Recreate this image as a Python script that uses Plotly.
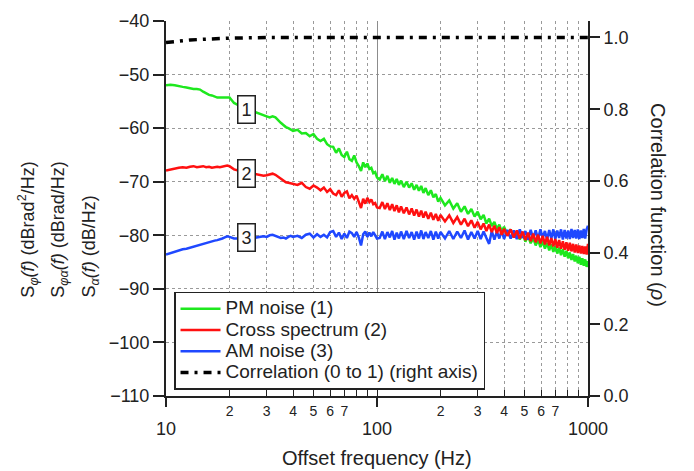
import plotly.graph_objects as go

# ---------------- data ----------------
freq = [10, 10.5, 11, 11.5, 12, 12.5, 13, 13.5, 14, 14.5, 15, 15.5, 16, 16.5, 17, 17.5, 18, 18.5, 19, 19.5, 20, 20.5, 21,
        22, 23, 24, 25, 26, 27, 28, 29, 30, 31, 32, 33, 34, 35, 36, 37, 38, 39, 40,
        42, 44, 46, 48, 50, 52, 54, 56, 58, 60, 62, 64, 66, 68, 70, 72, 74, 76, 78, 80, 82, 84, 86, 88, 90, 92, 94, 96, 98, 100,
        103, 106, 109, 112, 115, 118, 121, 124, 127, 130, 134, 138, 142, 146, 150, 154, 158, 162, 166, 170, 175, 180, 185, 190, 195, 200,
        210, 220, 230, 240, 250, 260, 270, 280, 290, 300, 310, 320, 330, 340, 350, 360, 370, 380, 390, 400,
        415, 430, 445, 460, 475, 490, 505, 520, 535, 550, 565, 580, 595, 610, 625, 640, 655, 670, 685, 700,
        715, 730, 745, 760, 775, 790, 805, 820, 835, 850, 865, 880, 895, 910, 925, 940, 955, 970, 985, 1000]

pm_noise = [-52.0, -51.9, -52.0, -52.2, -52.3, -52.4, -52.6, -52.7, -52.7, -52.8, -53.2, -53.5, -53.8, -53.9, -54.1, -54.3, -54.3, -54.3, -54.4, -54.4, -54.3, -54.8, -55.3,
            -55.7, -56.1, -56.4, -56.7, -56.9, -57.1, -57.4, -57.6, -57.8, -58.0, -57.8, -58.0, -58.6, -59.0, -59.4, -59.8, -60.0, -60.3, -60.5,
            -60.3, -61.0, -60.9, -61.5, -61.1, -62.0, -62.4, -62.0, -63.0, -63.4, -63.5, -64.6, -63.8, -65.0, -65.4, -64.4, -65.8, -66.1, -65.1, -66.4, -67.1, -68.0, -66.4, -67.3, -66.6, -67.6, -67.4, -68.4, -68.2, -69.2,
            -69.6, -68.6, -69.9, -68.9, -70.2, -69.3, -70.4, -69.5, -70.6, -69.8, -71.0, -70.0, -71.1, -70.3, -71.5, -70.6, -71.7, -70.8, -72.1, -71.2, -72.5, -71.6, -72.9, -72.3, -73.7, -73.0,
            -74.4, -73.5, -75.0, -74.0, -75.6, -74.6, -76.0, -75.1, -76.5, -75.6, -77.0, -76.2, -77.8, -76.9, -78.3, -77.5, -78.8, -78.0, -79.3, -78.4,
            -79.9, -78.9, -80.4, -79.4, -80.8, -79.7, -81.2, -80.1, -81.5, -80.5, -81.9, -80.8, -82.2, -81.1, -82.5, -81.4, -82.8, -81.7, -83.1, -82.0,
            -83.4, -82.3, -83.7, -82.6, -84.0, -82.9, -84.3, -83.2, -84.6, -83.5, -84.9, -83.8, -85.2, -84.0, -85.5, -84.3, -85.7, -84.5, -85.9, -84.8]

cross_spectrum = [-67.9, -67.7, -67.5, -67.4, -67.3, -67.4, -67.2, -67.1, -67.3, -67.2, -67.1, -67.3, -67.2, -67.4, -67.3, -67.2, -67.3, -67.2, -67.1, -67.0, -67.1, -67.4, -67.7,
                  -67.9, -68.1, -68.3, -68.4, -68.5, -68.6, -68.8, -68.9, -68.8, -68.6, -68.5, -68.7, -69.1, -69.5, -69.9, -70.1, -70.2, -70.3, -70.3,
                  -70.6, -70.2, -71.0, -71.3, -70.7, -71.1, -71.6, -71.1, -71.9, -71.4, -72.2, -72.5, -71.6, -72.8, -72.1, -71.8, -73.1, -72.5, -73.2, -72.6, -73.7, -74.9, -73.2, -74.1, -73.0, -73.8, -73.3, -74.2, -74.0, -74.8,
                  -74.9, -73.8, -75.1, -74.0, -75.3, -74.2, -75.5, -74.4, -75.7, -74.6, -75.9, -74.8, -76.1, -75.0, -76.3, -75.2, -76.5, -75.4, -76.7, -75.6, -76.9, -75.8, -77.1, -76.0, -77.3, -76.2,
                  -77.4, -76.3, -77.7, -76.6, -78.0, -76.9, -78.3, -77.2, -78.6, -77.5, -78.9, -77.8, -79.2, -78.0, -79.4, -78.2, -79.6, -78.5, -79.9, -78.8,
                  -80.1, -78.9, -80.4, -79.1, -80.6, -79.3, -80.9, -79.5, -81.1, -79.7, -81.3, -79.9, -81.5, -80.1, -81.7, -80.3, -81.9, -80.5, -82.1, -80.7,
                  -82.3, -80.9, -82.5, -81.1, -82.7, -81.3, -82.9, -81.4, -83.0, -81.6, -83.2, -81.7, -83.3, -81.9, -83.4, -82.0, -83.5, -82.1, -83.6, -81.6]

am_noise = [-83.6, -83.3, -83.0, -82.8, -82.6, -82.5, -82.3, -82.1, -82.0, -81.8, -81.6, -81.5, -81.2, -81.1, -81.0, -80.9, -80.8, -80.6, -80.4, -80.2, -80.3, -80.5, -80.6,
            -80.6, -80.5, -80.5, -80.4, -80.5, -80.4, -80.4, -80.2, -80.3, -80.0, -79.9, -80.1, -80.4, -80.5, -80.4, -80.6, -80.3, -80.1, -80.3,
            -80.1, -80.5, -79.9, -79.7, -80.4, -79.8, -80.3, -79.9, -80.4, -79.4, -79.2, -80.3, -79.5, -80.7, -79.7, -80.5, -79.3, -79.6, -80.3, -79.4, -80.4, -81.9, -79.8, -79.3, -80.3, -79.5, -80.2, -79.4, -80.1, -80.6,
            -80.5, -79.3, -80.7, -79.4, -80.4, -79.2, -80.8, -79.5, -80.6, -79.3, -80.7, -79.2, -80.5, -79.4, -80.8, -79.3, -80.6, -79.1, -80.7, -79.4, -80.5, -79.2, -80.8, -79.3, -80.6, -79.4,
            -80.6, -79.2, -80.7, -79.3, -80.5, -79.1, -80.8, -79.4, -80.6, -79.2, -80.7, -79.3, -80.5, -81.6, -79.2, -80.8, -79.3, -80.6, -79.1, -80.7,
            -79.0, -80.6, -79.1, -80.7, -78.9, -80.5, -79.2, -80.8, -79.0, -80.6, -79.1, -80.7, -78.9, -80.5, -79.2, -80.8, -79.0, -80.6, -78.9, -80.7,
            -79.1, -80.5, -78.9, -80.8, -79.0, -80.6, -79.1, -80.7, -78.8, -80.5, -79.0, -80.6, -78.9, -80.7, -79.1, -80.5, -78.8, -80.6, -78.9, -78.2]

corr_freq = [10, 11, 12, 13, 15, 17, 20, 25, 30, 50, 100, 200, 500, 1000]
correlation = [0.986, 0.989, 0.991, 0.993, 0.995, 0.997, 0.998, 0.999, 1.0, 1.0, 1.0, 1.0, 1.0, 1.0]

series_names = ["PM noise (1)", "Cross spectrum (2)", "AM noise (3)", "Correlation (0 to 1) (right axis)"]

minor_vals = [20, 30, 40, 50, 60, 70, 80, 90, 200, 300, 400, 500, 600, 700, 800, 900]
minor_text = ["2", "3", "4", "5", "6", "7", "", "", "2", "3", "4", "5", "6", "7", "", ""]
major_vals = [10, 100, 1000]
major_text = ["10", "100", "1000"]
left_ticks = [-110, -100, -90, -80, -70, -60, -50, -40]
right_ticks = [0.0, 0.2, 0.4, 0.6, 0.8, 1.0]

assert len(freq) == len(pm_noise) == len(cross_spectrum) == len(am_noise)

FONT = "Arial, Liberation Sans, sans-serif"
GRID = "#9a9a9a"
INK = "#222"


def big(name):
    # legend text drawn larger while the row spacing follows the smaller legend font
    return '<span style="font-size:19px">' + name + '</span>'


fig = go.Figure()
fig.add_trace(go.Scatter(x=freq, y=pm_noise, mode="lines", name=big(series_names[0]),
                         line=dict(color="#1ee81e", width=2.5), legendrank=1))
fig.add_trace(go.Scatter(x=freq, y=am_noise, mode="lines", name=big(series_names[2]),
                         line=dict(color="#1f48ff", width=2.5), legendrank=3))
fig.add_trace(go.Scatter(x=freq, y=cross_spectrum, mode="lines", name=big(series_names[1]),
                         line=dict(color="#ff1010", width=2.5), legendrank=2))
fig.add_trace(go.Scatter(x=corr_freq, y=correlation, mode="lines", name=big(series_names[3]),
                         line=dict(color="black", width=3.5, dash="8px,6px,3px,6px"), yaxis="y2", legendrank=4))
# helper trace so the major-label axis is drawn
fig.add_trace(go.Scatter(x=major_vals, y=[None, None, None], xaxis="x2", showlegend=False,
                         hoverinfo="skip", mode="lines"))

fig.update_layout(
    width=694, height=471,
    margin=dict(l=166, r=106, t=11, b=75),
    paper_bgcolor="white", plot_bgcolor="white",
    font=dict(family=FONT, size=18, color=INK),
    showlegend=True,
    legend=dict(x=0.019, y=0.278, xanchor="left", yanchor="top",
                bordercolor=INK, borderwidth=1.5, bgcolor="white",
                font=dict(size=14, family=FONT), itemwidth=40, tracegroupgap=0),
    xaxis=dict(type="log", range=[1, 3], tickmode="array", tickvals=minor_vals + major_vals,
               ticktext=minor_text + ["", "", ""], ticks="inside", ticklen=6, tickwidth=1,
               tickcolor=INK, tickfont=dict(size=14), showline=True, linecolor=INK, linewidth=2,
               showgrid=True, gridcolor=GRID, griddash="dot", gridwidth=1, zeroline=False,
               ticklabelstandoff=1),
    xaxis2=dict(type="log", range=[1, 3], overlaying="x", anchor="y", side="bottom",
                tickmode="array", tickvals=major_vals, ticktext=major_text, ticks="outside",
                ticklen=10, tickwidth=2, tickcolor=INK, tickfont=dict(size=18),
                showgrid=True, gridcolor="#8c8c8c", gridwidth=1, showline=False,
                ticklabelstandoff=6, zeroline=False),
    yaxis=dict(range=[-110, -40], tickmode="array", tickvals=left_ticks, ticks="outside", ticklen=11,
               tickwidth=1.5, tickcolor=INK, tickfont=dict(size=18), showline=True, linecolor=INK,
               linewidth=2, showgrid=True, gridcolor=GRID, griddash="dot", gridwidth=1, zeroline=False),
    yaxis2=dict(range=[0, 1.046], overlaying="y", side="right", tickmode="array", tickvals=right_ticks,
                tickformat=".1f", ticks="outside", ticklen=10, tickwidth=1.5, tickcolor=INK,
                tickfont=dict(size=18), showline=True, linecolor=INK, linewidth=2,
                showgrid=False, zeroline=False),
)

ann = []
for txt, yv in [("1", -56.45), ("2", -68.5), ("3", -80.5)]:
    ann.append(dict(x=1.3815, y=yv, xref="x", yref="y", text=txt, showarrow=False,
                    font=dict(size=18, family=FONT, color=INK), bgcolor="white",
                    bordercolor=INK, borderwidth=1.5, borderpad=3))

ylines = [
    ("S<sub><i>φ</i></sub><i>(f)</i> (dBrad<sup>2</sup>/Hz)", -0.327),
    ("S<sub><i>φα</i></sub><i>(f)</i> (dBrad/Hz)", -0.251),
    ("S<sub><i>α</i></sub><i>(f)</i> (dB/Hz)", -0.178),
]
for txt, xp in ylines:
    ann.append(dict(x=xp, y=0.257, xref="paper", yref="paper", text=txt, showarrow=False,
                    textangle=-90, xanchor="center", yanchor="bottom",
                    font=dict(size=18, family=FONT, color=INK)))
ann.append(dict(x=1.166, y=0.509, xref="paper", yref="paper", text="Correlation function (<i>ρ</i>)",
                showarrow=False, textangle=90, xanchor="center", yanchor="middle",
                font=dict(size=20, family=FONT, color=INK)))
ann.append(dict(x=0.5, y=-0.166, xref="paper", yref="paper", text="Offset frequency (Hz)",
                showarrow=False, xanchor="center", yanchor="middle",
                font=dict(size=20, family=FONT, color=INK)))
fig.update_layout(annotations=ann)

fig.write_html("out.html")
